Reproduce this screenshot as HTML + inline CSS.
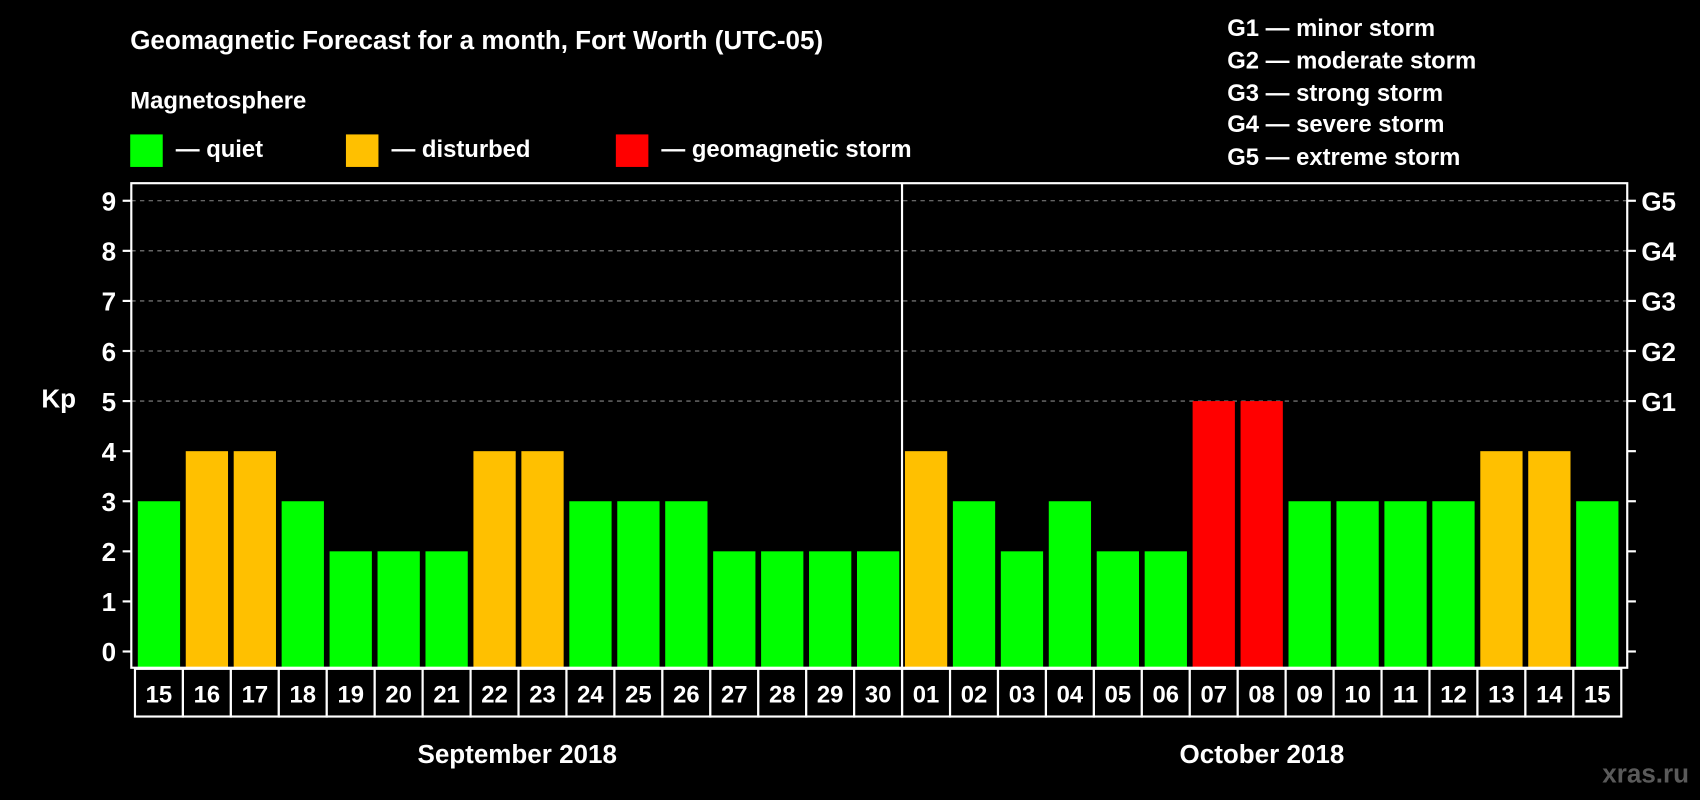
<!DOCTYPE html>
<html><head><meta charset="utf-8"><style>
html,body{margin:0;padding:0;background:#000;width:1700px;height:800px;overflow:hidden}
svg{display:block}
text{font-family:"Liberation Sans",Arial,sans-serif;font-weight:bold;fill:#fff}
</style></head><body>
<svg id="chart" width="1700" height="800" viewBox="0 0 1568 738" xmlns="http://www.w3.org/2000/svg">
<rect width="1568" height="738" fill="#000"/>
<text x="120" y="45" font-size="24">Geomagnetic Forecast for a month, Fort Worth (UTC-05)</text>
<text x="120" y="100" font-size="22">Magnetosphere</text>
<g><rect x="120" y="124" width="30" height="30" fill="#00ff00"/><text x="162" y="145" font-size="22">— quiet</text></g>
<g><rect x="319" y="124" width="30" height="30" fill="#ffc000"/><text x="361" y="145" font-size="22">— disturbed</text></g>
<g><rect x="568" y="124" width="30" height="30" fill="#ff0000"/><text x="610" y="145" font-size="22">— geomagnetic storm</text></g>
<g font-size="22">
<text x="1132" y="33">G1 — minor storm</text>
<text x="1132" y="63">G2 — moderate storm</text>
<text x="1132" y="93">G3 — strong storm</text>
<text x="1132" y="122">G4 — severe storm</text>
<text x="1132" y="152">G5 — extreme storm</text>
</g>
<text x="38" y="376" font-size="24">Kp</text>
<g id="grid"></g>
<g id="bars"></g>
<g id="labels"></g>
<rect x="121" y="169" width="1380" height="447" fill="none" stroke="#fff" stroke-width="2"/>
<line x1="832" y1="169" x2="832" y2="661" stroke="#fff" stroke-width="2"/>
<text x="477" y="704" font-size="24" text-anchor="middle">September 2018</text>
<text x="1164" y="704" font-size="24" text-anchor="middle">October 2018</text>
<text x="1558" y="722" font-size="24" text-anchor="end" fill="#555" style="fill:#5a5a5a">xras.ru</text>
</svg>
<script>
const days = ["15","16","17","18","19","20","21","22","23","24","25","26","27","28","29","30","01","02","03","04","05","06","07","08","09","10","11","12","13","14","15"];
const kpValues = [3,4,4,3,2,2,2,4,4,3,3,3,2,2,2,2,4,3,2,3,2,2,5,5,3,3,3,3,4,4,3];
const yTicks = [0,1,2,3,4,5,6,7,8,9];
const gLabels = ["","","","","","G1","G2","G3","G4","G5"];
const NS="http://www.w3.org/2000/svg";
const x0=146.5, step=44.23, bw=39, base=616;
const y=v=>601-v*46.2;
const xc=i=>x0+i*step;
function mk(t,a,p){const e=document.createElementNS(NS,t);for(const k in a)e.setAttribute(k,a[k]);p.appendChild(e);return e;}
const grid=document.getElementById('grid'),bars=document.getElementById('bars'),labels=document.getElementById('labels');
yTicks.forEach((v,i)=>{
  const yy=y(v);
  if(v>=5){const l=mk('line',{x1:121,x2:1501,y1:yy,y2:yy,stroke:'#888','stroke-dasharray':'4,4','stroke-width':1},grid);
  
  }
  mk('line',{x1:113,x2:121,y1:yy,y2:yy,stroke:'#fff','stroke-width':2},grid);
  mk('line',{x1:1501,x2:1509,y1:yy,y2:yy,stroke:'#fff','stroke-width':2},grid);
  const t=mk('text',{x:107,y:yy+9,'font-size':24,'text-anchor':'end'},grid);t.textContent=v;
  
  
  if(gLabels[i]){const g=mk('text',{x:1514,y:yy+9,'font-size':24},grid);g.textContent=gLabels[i];
  
  }
});
kpValues.forEach((v,i)=>{
  const col=v>=5?'#ff0000':(v>=4?'#ffc000':'#00ff00');
  const r=mk('rect',{x:xc(i)-bw/2,y:y(v),width:bw,height:base-y(v),fill:col},bars);
  
  
  const c=mk('rect',{x:xc(i)-step/2,y:617,width:step,height:44,fill:'#000',stroke:'#fff','stroke-width':2},labels);
  
  
  const t=mk('text',{x:xc(i),y:648,'font-size':22,'text-anchor':'middle'},labels);t.textContent=days[i];
  
  
});
</script>
</body></html>
